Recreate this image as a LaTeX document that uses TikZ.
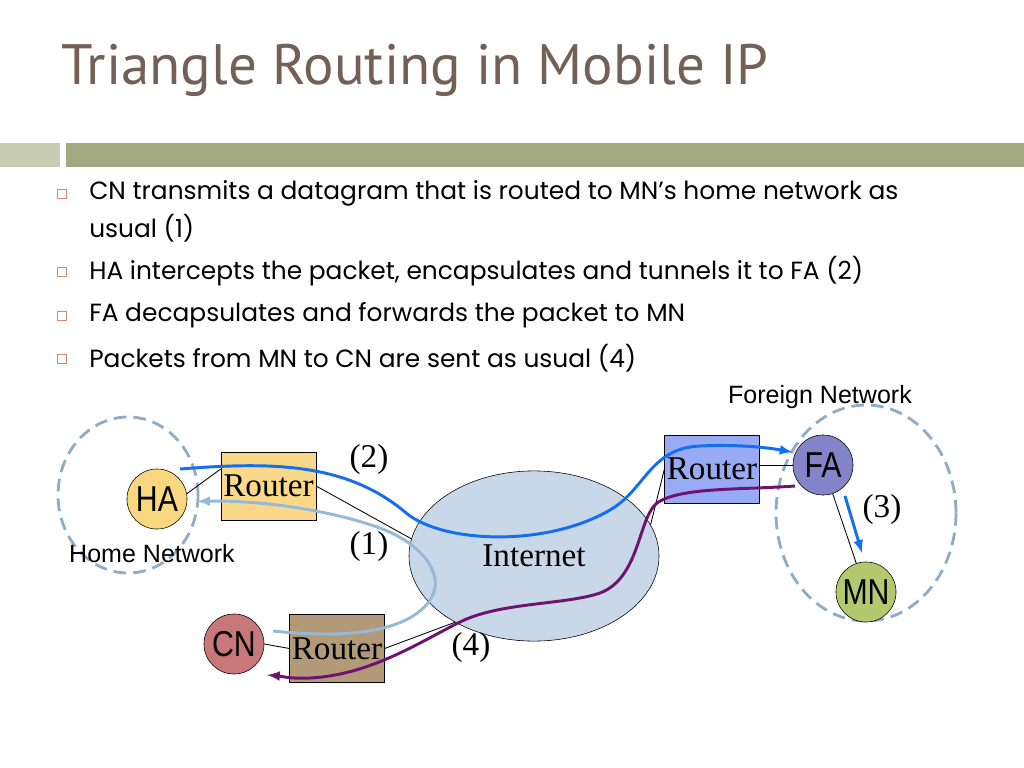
\documentclass[tikz,border=0pt]{standalone}
\usepackage{fontspec}
\setmainfont{Liberation Serif}
\newfontfamily\titlefont{PT Sans}
\newfontfamily\bodyfont{Poppins}
\newfontfamily\labelfont{Liberation Sans}
\newfontfamily\hostfont[FakeStretch=0.84]{Liberation Sans}
\usetikzlibrary{shapes.geometric, calc}

\definecolor{titlebrown}{RGB}{115,96,86}
\definecolor{barlight}{RGB}{200,204,178}
\definecolor{bargreen}{RGB}{163,170,128}
\definecolor{bulletorange}{RGB}{205,140,110}
\definecolor{netblue}{RGB}{143,172,198}
\definecolor{hafill}{RGB}{249,215,126}
\definecolor{routerA}{RGB}{250,216,138}
\definecolor{routerB}{RGB}{153,170,245}
\definecolor{routerC}{RGB}{178,154,120}
\definecolor{cnfill}{RGB}{200,120,120}
\definecolor{fafill}{RGB}{132,132,200}
\definecolor{mnfill}{RGB}{180,200,110}
\definecolor{netfill}{RGB}{200,216,232}
\definecolor{tunnelblue}{RGB}{20,110,240}
\definecolor{homeblue}{RGB}{150,185,215}
\definecolor{backpurple}{RGB}{110,20,110}

\tikzset{
  host/.style={circle, draw, inner sep=0pt, minimum size=42.7pt, font=\hostfont\fontsize{25.6}{26}\selectfont},
  router/.style={rectangle, draw, inner sep=0pt, minimum width=67.3pt, minimum height=48.4pt, font=\fontsize{23.6}{24}\selectfont},
  link/.style={line width=0.6pt},
  netline/.style={draw=netblue, line width=2pt, dash pattern=on 9pt off 5pt},
  flow/.style={line width=2.1pt, ->},
  num/.style={inner sep=0pt, font=\fontsize{23.6}{24}\selectfont},
  netname/.style={inner sep=0pt, font=\labelfont\fontsize{17.8}{18}\selectfont},
  bullet/.style={rectangle, draw=bulletorange, line width=0.6pt, inner sep=0pt, minimum size=6.5pt},
  item/.style={anchor=west, inner sep=0pt, font=\bodyfont\fontsize{17.7}{18}\selectfont}
}

\begin{document}
\begin{tikzpicture}[x=0.025cm, y=-0.025cm, >=latex]
\useasboundingbox (0,0) rectangle (1024,768);
\fill[white] (0,0) rectangle (1024,768);

% title and bar
\node[anchor=west, inner sep=0pt, text=titlebrown, font=\titlefont\fontsize{40.5}{41}\selectfont] (title) at (61,70) {Triangle Routing in Mobile IP};
\fill[barlight] (0,143) rectangle (60,167);
\fill[bargreen] (66,143) rectangle (1024,167);

% bullets
\node[bullet] (b1) at (62,194) {};
\node[item] (t1) at (89,193) {CN transmits a datagram that is routed to MN’s home network as};
\node[item] (t1b) at (89,228) {usual (1)};
\node[bullet] (b2) at (62,272) {};
\node[item] (t2) at (89,271) {HA intercepts the packet, encapsulates and tunnels it to FA (2)};
\node[bullet] (b3) at (62,316) {};
\node[item] (t3) at (89,315) {FA decapsulates and forwards the packet to MN};
\node[bullet] (b4) at (62,359) {};
\node[item] (t4) at (89,358) {Packets from MN to CN are sent as usual (4)};

% networks
\draw[netline] (128,495) ellipse [x radius=70, y radius=78];
\draw[netline] (866,513) ellipse [x radius=90, y radius=108];
\node[netname] (homenet) at (152,554) {Home Network};
\node[netname] (foreignnet) at (820,397) {Foreign Network};

\node[ellipse, draw, fill=netfill, inner sep=0pt, minimum width=177.8pt, minimum height=121pt, font=\fontsize{23.6}{24}\selectfont] (Internet) at (534,556) {Internet};
\node[host, fill=hafill] (HA) at (157,499) {HA};
\node[host, fill=cnfill] (CN) at (234,644) {CN};
\node[host, fill=fafill] (FA) at (823,465) {FA};
\node[host, fill=mnfill] (MN) at (866,592) {MN};
\node[router, fill=routerA] (R1) at (268.5,486) {Router};
\node[router, fill=routerB] (R2) at (712,469) {Router};
\node[router, fill=routerC] (R3) at (337,648.5) {Router};

% links
\draw[link] (HA.10) -- ($(R1.north west)!0.25!(R1.south west)$);
\draw[link] (R1.east) -- (Internet.172);
\draw[link] (CN.east) -- (R3.west);
\draw[link] (R3.east) -- (Internet.220);
\draw[link] (R2.west) -- (Internet.15);
\draw[link] (FA.west -| R2.east) -- (FA.west);
\draw[link] (FA) -- (MN);

% packet paths
\coordinate (ha-start) at (180,469);
\coordinate (cn-start) at (273,631);
\coordinate (fa-start) at (795,486);
\coordinate (cn-end) at (267,675);
\draw[flow, draw=homeblue] (cn-start) .. controls (330,637) and (400,637) .. (428,603) .. controls (448,578) and (425,545) .. (380,528) .. controls (330,510) and (260,500) .. (HA.-5) [shorten >=7pt];
\draw[flow, draw=tunnelblue, shorten >=2pt] (ha-start) .. controls (270,462) and (345,462) .. (405,512) .. controls (440,543) and (545,548) .. (610,510) .. controls (645,490) and (650,448) .. (700,446) .. controls (740,444) and (770,448) .. (FA.156);
\draw[flow, draw=backpurple] (fa-start) .. controls (740,490) and (680,487) .. (657,503) .. controls (638,518) and (640,578) .. (600,593) .. controls (565,605) and (500,602) .. (460,622) .. controls (420,642) and (370,675) .. (310,678) .. controls (290,679) and (280,676) .. (cn-end);
\draw[flow, draw=tunnelblue] ($(FA)+(22,31)$) -- ($(MN)+(-4,-39)$);

\node[num] (n1) at (369,547) {(1)};
\node[num] (n2) at (369,460) {(2)};
\node[num] (n3) at (882,510) {(3)};
\node[num] (n4) at (471,648) {(4)};
\end{tikzpicture}
\end{document}
